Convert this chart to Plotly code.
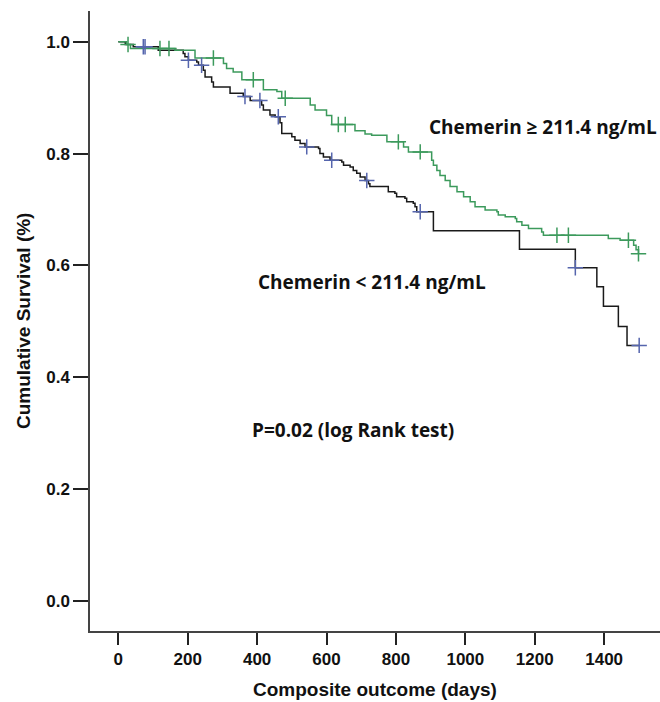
import plotly.graph_objects as go

# ---- data ----
high_days = [0, 24, 35, 163, 221, 303, 312, 331, 356, 418, 457, 471, 553, 567, 600, 615, 682, 711, 730, 774,
             822, 836, 903, 908, 918, 927, 942, 956, 976, 995, 1014, 1028, 1057, 1091, 1095, 1115, 1144, 1148,
             1163, 1182, 1220, 1225, 1412, 1446, 1485, 1492, 1499]
high_surv = [1.0, 0.995, 0.988, 0.985, 0.971, 0.961, 0.952, 0.946, 0.932, 0.914, 0.911, 0.899, 0.887, 0.878,
             0.868, 0.852, 0.841, 0.835, 0.833, 0.821, 0.812, 0.803, 0.788, 0.779, 0.770, 0.761, 0.752, 0.741,
             0.732, 0.723, 0.714, 0.705, 0.699, 0.696, 0.690, 0.687, 0.684, 0.678, 0.672, 0.666, 0.660, 0.654,
             0.648, 0.645, 0.636, 0.628, 0.621]
high_censor = [28, 120, 146, 274, 389, 481, 634, 654, 807, 870, 1264, 1297, 1470, 1499]

low_days = [0, 20, 43, 115, 187, 192, 202, 226, 231, 245, 250, 269, 274, 322, 360, 380, 413, 418, 437, 452,
            466, 471, 500, 509, 524, 538, 577, 581, 591, 610, 644, 649, 668, 677, 687, 697, 711, 721, 725, 778,
            797, 802, 826, 831, 850, 855, 860, 908, 1156, 1317, 1379, 1398, 1441, 1466, 1501]
low_surv = [1.0, 0.995, 0.991, 0.985, 0.979, 0.973, 0.967, 0.964, 0.958, 0.949, 0.937, 0.928, 0.919, 0.908,
            0.902, 0.895, 0.887, 0.878, 0.869, 0.866, 0.855, 0.836, 0.830, 0.824, 0.818, 0.812, 0.809, 0.800,
            0.794, 0.788, 0.785, 0.779, 0.776, 0.770, 0.765, 0.758, 0.752, 0.746, 0.741, 0.732, 0.729, 0.723,
            0.720, 0.714, 0.711, 0.705, 0.696, 0.662, 0.629, 0.596, 0.562, 0.527, 0.491, 0.457, 0.457]
low_censor = [72, 77, 202, 240, 365, 408, 461, 543, 615, 716, 870, 1317, 1501]

x_ticks = [0, 200, 400, 600, 800, 1000, 1200, 1400]
y_ticks = [0.0, 0.2, 0.4, 0.6, 0.8, 1.0]
y_ticktext = ["0.0", "0.2", "0.4", "0.6", "0.8", "1.0"]

label_high = "Chemerin \u2265 211.4 ng/mL"
label_low = "Chemerin < 211.4 ng/mL"
label_p = "P=0.02 (log Rank test)"
x_title = "Composite outcome (days)"
y_title = "Cumulative Survival (%)"

GREEN = "#3c9a5c"
BLUE = "#5565ad"
BLACK = "#1a1a1a"


def step_value(days, surv, d):
    v = surv[0]
    for t, s in zip(days, surv):
        if t <= d:
            v = s
        else:
            break
    return v


fig = go.Figure()
fig.add_trace(go.Scatter(x=low_days, y=low_surv, mode="lines", line=dict(color=BLACK, width=1.5, shape="hv"),
                         showlegend=False, hoverinfo="skip"))
fig.add_trace(go.Scatter(x=high_days, y=high_surv, mode="lines", line=dict(color=GREEN, width=1.5, shape="hv"),
                         showlegend=False, hoverinfo="skip"))
fig.add_trace(go.Scatter(x=low_censor, y=[step_value(low_days, low_surv, d) for d in low_censor], mode="markers",
                         marker=dict(symbol="cross-thin", size=11, line=dict(color=BLUE, width=1.5)),
                         showlegend=False, hoverinfo="skip"))
fig.add_trace(go.Scatter(x=high_censor, y=[step_value(high_days, high_surv, d) for d in high_censor], mode="markers",
                         marker=dict(symbol="cross-thin", size=11, line=dict(color=GREEN, width=1.5)),
                         showlegend=False, hoverinfo="skip"))

tick_font = dict(family="Liberation Sans, Arial", size=17, color="#111", weight="bold")
title_font = dict(family="Liberation Sans, Arial", size=19, color="#111", weight="bold")
ann_font = dict(family="Open Sans", size=19, color="#111", weight="bold")

fig.update_layout(
    width=660, height=702,
    margin=dict(l=90, r=0, t=11, b=71),
    paper_bgcolor="white", plot_bgcolor="white",
    xaxis=dict(range=[-81.6, 1561], tickvals=x_ticks, showgrid=False, zeroline=False,
               showline=True, linecolor="#444", linewidth=1.5,
               ticks="outside", ticklen=12, tickwidth=2, tickcolor="#222", tickfont=tick_font),
    yaxis=dict(range=[-0.0537, 1.055], tickvals=y_ticks, ticktext=y_ticktext, showgrid=False, zeroline=False,
               showline=True, linecolor="#444", linewidth=1.5,
               ticks="outside", ticklen=15, tickwidth=2, tickcolor="#222", tickfont=tick_font),
    annotations=[
        dict(text=y_title, xref="paper", yref="paper", x=-0.1175, y=0.5, textangle=-90,
             xanchor="center", yanchor="middle", showarrow=False, font=title_font),
        dict(text=x_title, xref="paper", yref="paper", x=0.5, y=-0.095,
             xanchor="center", yanchor="middle", showarrow=False, font=title_font),
        dict(text=label_high, xref="paper", yref="paper", x=0.591, y=0.813,
             xanchor="left", yanchor="middle", showarrow=False, font=ann_font),
        dict(text=label_low, xref="paper", yref="paper", x=0.291, y=0.563,
             xanchor="left", yanchor="middle", showarrow=False, font=ann_font),
        dict(text=label_p, xref="paper", yref="paper", x=0.281, y=0.324,
             xanchor="left", yanchor="middle", showarrow=False, font=ann_font),
    ],
)

fig.write_html("out.html", config={"displayModeBar": False},
               post_script="document.body.style.margin='0';document.body.style.overflow='hidden';")
